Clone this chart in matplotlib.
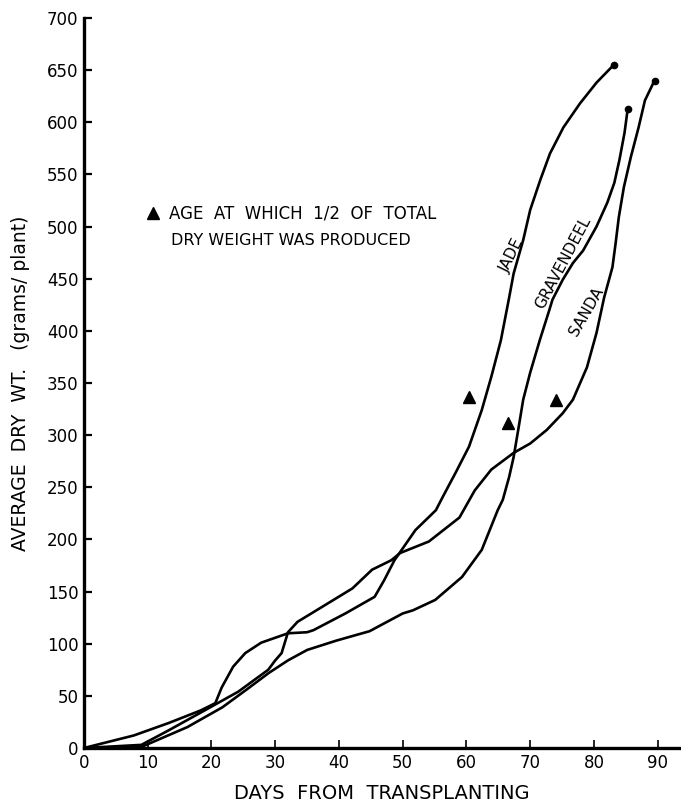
import matplotlib
matplotlib.use("Agg")
import matplotlib.pyplot as plt

# ---- data ----
jade_x = [0, 7.8, 13.3, 18.3, 20.6, 21.6, 23.4, 25.3, 27.8, 32, 35, 36, 41, 45.6, 47.1, 48.7,
          49.5, 52, 55.2, 56.3, 58.3, 60.4, 62.4, 63.9, 65.4, 66.7, 67.4, 68.9, 70, 71.6,
          73.1, 75.2, 77.8, 80.4, 83.1]
jade_y = [0, 12, 24, 36, 43, 58, 78, 91, 101, 110, 111, 113, 129, 145, 161, 180,
          187, 209, 228, 241, 264, 289, 324, 356, 391, 432, 455, 487, 516, 545,
          570, 595, 618, 638, 655]

grav_x = [0, 9, 16.2, 21.7, 25.5, 29, 32, 35, 39.6, 44.8, 50, 51.6, 55.1, 59.3, 62.4, 64.9,
          65.7, 66.7, 67.4, 68.2, 68.9, 70.0, 71.5, 73.0, 73.5, 75.1, 76.7, 78.3, 80.4,
          82.1, 83.2, 84.0, 84.8, 85.3]
grav_y = [0, 1, 20, 39, 56, 72, 84, 94, 103, 112, 129, 132, 142, 164, 190, 228,
          238, 260, 279, 308, 334, 360, 391, 420, 430, 449, 465, 477, 500,
          523, 542, 564, 590, 613]

sanda_x = [0, 9, 13.3, 19.5, 24.2, 28.9, 30, 31, 32, 33.5, 37, 42.1, 45.2, 48.2, 49.6, 54.1,
           58.9, 61.3, 63.9, 67.4, 70, 72.6, 75.1, 76.7, 78.9, 80.4, 81.6, 82.9, 83.4,
           83.9, 84.7, 85.8, 87.0, 88.0, 89.5]
sanda_y = [0, 3, 17, 38, 54, 75, 84, 91, 111, 121, 134, 153, 171, 180, 187, 198,
           221, 247, 267, 283, 292, 305, 321, 334, 365, 398, 432, 461, 484,
           509, 538, 567, 595, 621, 640]

half_x = [60.4, 66.5, 74.1]
half_y = [337, 312, 334]

x_ticks = [0, 10, 20, 30, 40, 50, 60, 70, 80, 90]
y_ticks = [0, 50, 100, 150, 200, 250, 300, 350, 400, 450, 500, 550, 600, 650, 700]

curve_names = ["JADE", "GRAVENDEEL", "SANDA"]

# ---- figure ----
plt.rcParams['font.family'] = ['DejaVu Sans']
fig = plt.figure(figsize=(6.81, 8.08), dpi=100)
ax = fig.add_axes([84 / 681, 60 / 808, 596 / 681, 730 / 808])

for xs, ys in [(jade_x, jade_y), (grav_x, grav_y), (sanda_x, sanda_y)]:
    ax.plot(xs, ys, color='black', lw=1.9, solid_capstyle='round', solid_joinstyle='round')
    ax.plot(xs[-1], ys[-1], 'o', color='black', ms=4.5)

ax.plot(half_x, half_y, '^', color='black', ms=9, linestyle='none')

ax.set_xlim(0, 93.5)
ax.set_ylim(0, 700)
ax.set_xticks(x_ticks)
ax.set_yticks(y_ticks)
for s in ['top', 'right']:
    ax.spines[s].set_visible(False)
for s in ['left', 'bottom']:
    ax.spines[s].set_linewidth(2.4)
ax.tick_params(axis='y', direction='in', length=6, width=1.6, labelsize=12, pad=4)
ax.tick_params(axis='x', direction='in', length=6, width=1.2, labelsize=12, pad=4)

ax.set_xlabel("DAYS  FROM  TRANSPLANTING", fontsize=14, labelpad=9)
ax.set_ylabel("AVERAGE  DRY  WT.   (grams/ plant)", fontsize=13.5, labelpad=12)

# legend-like annotation
ax.plot([10.8], [513], '^', color='black', ms=9)
ax.text(13.4, 513, "AGE  AT  WHICH  1/2  OF  TOTAL", fontsize=12, va='center', ha='left')
ax.text(13.6, 487, "DRY WEIGHT WAS PRODUCED", fontsize=11.5, va='center', ha='left')

# curve labels
ax.text(67.1, 472, curve_names[0], fontsize=11, rotation=64, ha='center', va='center')
ax.text(75.2, 465, curve_names[1], fontsize=11, rotation=62, ha='center', va='center')
ax.text(78.9, 419, curve_names[2], fontsize=11, rotation=60, ha='center', va='center')

fig.savefig("out.png", dpi=100)
